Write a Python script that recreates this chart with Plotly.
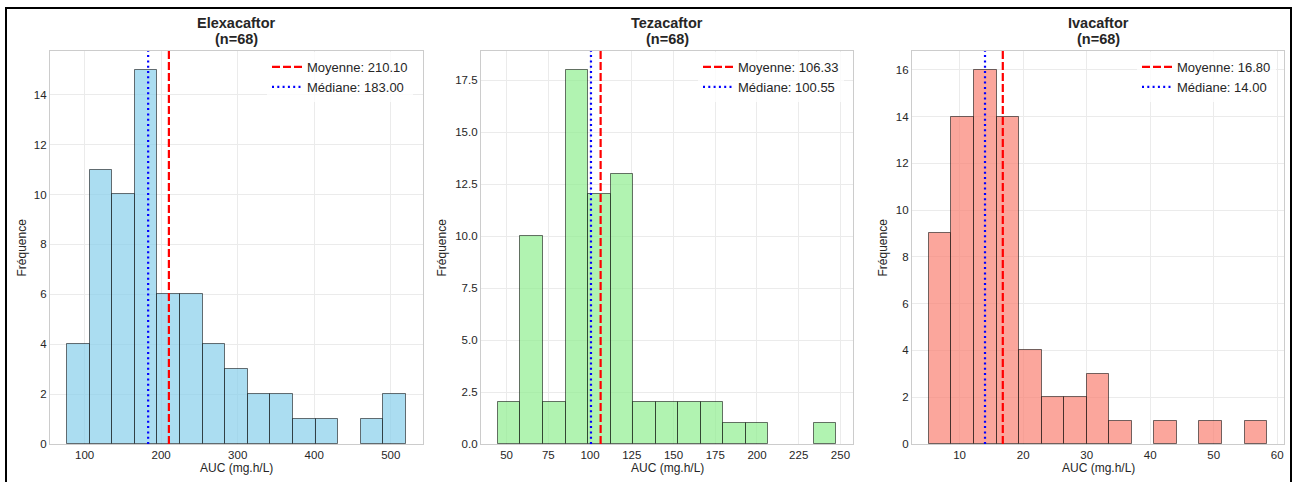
import numpy as np
import plotly.graph_objects as go

# Histogram data per molecule (15 bins between min and max AUC)
drugs = ["Elexacaftor", "Tezacaftor", "Ivacaftor"]
n_patients = [68, 68, 68]
auc_min = [76.9, 44.8, 5.17]
auc_max = [520.0, 247.4, 58.4]
counts_elexa = [4, 11, 10, 15, 6, 6, 4, 3, 2, 2, 1, 1, 0, 1, 2]
counts_teza = [2, 10, 2, 18, 12, 13, 2, 2, 2, 2, 1, 1, 0, 0, 1]
counts_iva = [9, 14, 16, 14, 4, 2, 2, 3, 1, 0, 1, 0, 1, 0, 1]
means = [210.10, 106.33, 16.80]
medians = [183.00, 100.55, 14.00]

# Axis tick values
xticks_elexa = [100, 200, 300, 400, 500]
xticks_teza = [50, 75, 100, 125, 150, 175, 200, 225, 250]
xticks_iva = [10, 20, 30, 40, 50, 60]
yticks_elexa = [0, 2, 4, 6, 8, 10, 12, 14]
yticks_teza = [0.0, 2.5, 5.0, 7.5, 10.0, 12.5, 15.0, 17.5]
yticks_iva = [0, 2, 4, 6, 8, 10, 12, 14, 16]

all_counts = [counts_elexa, counts_teza, counts_iva]
all_xticks = [xticks_elexa, xticks_teza, xticks_iva]
all_yticks = [yticks_elexa, yticks_teza, yticks_iva]
fills = ["rgba(135,206,235,0.7)", "rgba(144,238,144,0.7)", "rgba(250,128,114,0.7)"]

W, H = 1294, 482
FONT = "Liberation Sans, Arial, Helvetica, sans-serif"
TXT = "#262626"

def px(x):
    return x / W

def py(y):
    return 1 - y / H

# Pixel layout of the three panels
panel_left = [50, 481, 912]
panel_right = [423, 853, 1284]
panel_top, panel_bottom = 51, 444
ytitle_x = [22, 442, 883]
legend_x = [267, 698, 1137]

fig = go.Figure()
annotations = []

for i, name in enumerate(drugs):
    k = "" if i == 0 else str(i + 1)
    xa, ya = "x" + k, "y" + k
    counts = np.array(all_counts[i], dtype=float)
    edges = np.linspace(auc_min[i], auc_max[i], len(counts) + 1)
    centers = (edges[:-1] + edges[1:]) / 2
    width = edges[1] - edges[0]
    mask = counts > 0
    fig.add_trace(go.Bar(
        x=centers[mask], y=counts[mask], width=width,
        marker=dict(color=fills[i], line=dict(color="rgba(0,0,0,0.55)", width=1)),
        xaxis=xa, yaxis=ya, showlegend=False, hoverinfo="skip",
    ))
    ymax = counts.max() * 1.05
    leg = "legend" if i == 0 else "legend" + str(i + 1)
    fig.add_trace(go.Scatter(
        x=[means[i], means[i]], y=[0, ymax], mode="lines",
        line=dict(color="red", width=2.2, dash="8px,3px"),
        name=f"Moyenne: {means[i]:.2f}", xaxis=xa, yaxis=ya, legend=leg,
    ))
    fig.add_trace(go.Scatter(
        x=[medians[i], medians[i]], y=[0, ymax], mode="lines",
        line=dict(color="blue", width=2.2, dash="2px,3.3px"),
        name=f"Médiane: {medians[i]:.2f}", xaxis=xa, yaxis=ya, legend=leg,
    ))

    span = auc_max[i] - auc_min[i]
    axis_common = dict(
        showgrid=True, gridcolor="#ebebeb", gridwidth=1,
        showline=True, linecolor="#cccccc", linewidth=1.3, mirror=True,
        zeroline=False, ticks="", automargin=False,
        tickfont=dict(family=FONT, size=11.5, color=TXT),
    )
    fig.layout["xaxis" + k] = dict(
        axis_common,
        domain=[px(panel_left[i]), px(panel_right[i])],
        range=[auc_min[i] - 0.05 * span, auc_max[i] + 0.05 * span],
        tickvals=all_xticks[i], anchor=ya,
    )
    fig.layout["yaxis" + k] = dict(
        axis_common,
        domain=[py(panel_bottom), py(panel_top)],
        range=[0, ymax], tickvals=all_yticks[i],
        tickformat=".1f" if i == 1 else "d", anchor=xa,
    )
    fig.layout[leg] = dict(
        x=px(legend_x[i]), y=py(52), xanchor="left", yanchor="top",
        bgcolor="rgba(255,255,255,0.8)", borderwidth=0,
        font=dict(family=FONT, size=13, color=TXT),
    )

    cx = px((panel_left[i] + panel_right[i]) / 2)
    annotations += [
        dict(text=f"<b>{name}</b>", x=cx, y=py(23), xref="paper", yref="paper",
             showarrow=False, xanchor="center", yanchor="middle",
             font=dict(family=FONT, size=14.5, color=TXT)),
        dict(text=f"<b>(n={n_patients[i]})</b>", x=cx, y=py(39), xref="paper", yref="paper",
             showarrow=False, xanchor="center", yanchor="middle",
             font=dict(family=FONT, size=14.5, color=TXT)),
        dict(text="AUC (mg.h/L)", x=cx, y=py(468), xref="paper", yref="paper",
             showarrow=False, xanchor="center", yanchor="middle",
             font=dict(family=FONT, size=12, color=TXT)),
        dict(text="Fréquence", x=px(ytitle_x[i]), y=py((panel_top + panel_bottom) / 2),
             xref="paper", yref="paper", showarrow=False, textangle=-90,
             xanchor="center", yanchor="middle",
             font=dict(family=FONT, size=12, color=TXT)),
    ]

fig.update_layout(
    width=W, height=H,
    margin=dict(l=0, r=0, t=0, b=0),
    paper_bgcolor="white", plot_bgcolor="white",
    barmode="overlay", bargap=0,
    annotations=annotations,
    shapes=[dict(type="rect", xref="paper", yref="paper",
                 x0=px(6), x1=px(1291), y0=py(490), y1=py(8),
                 line=dict(color="black", width=2), fillcolor="rgba(0,0,0,0)")],
)

fig.write_html("out.html")
